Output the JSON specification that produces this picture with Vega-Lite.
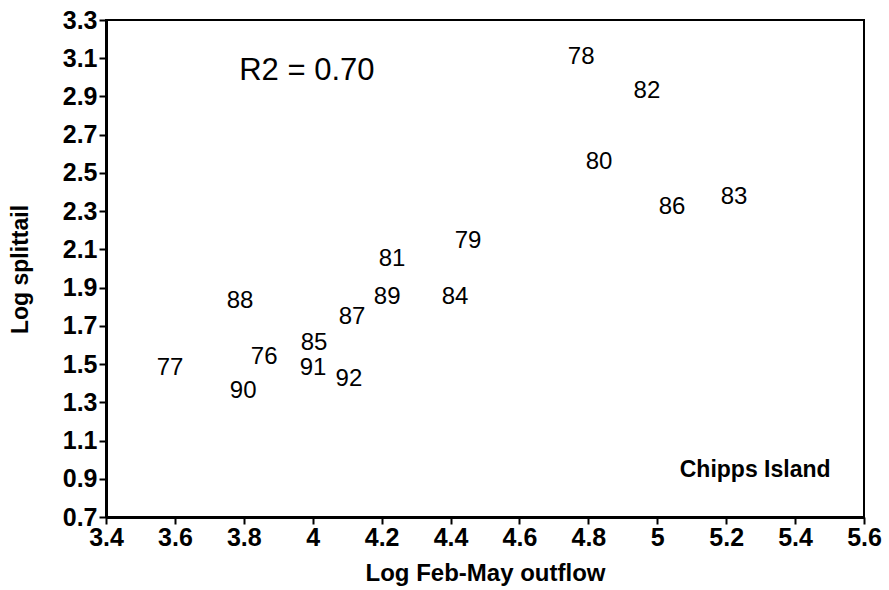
{
  "$schema": "https://vega.github.io/schema/vega-lite/v6.json",
  "width": 758,
  "height": 497,
  "autosize": "none",
  "padding": {"left": 106, "top": 20, "right": 25, "bottom": 73},
  "background": "white",
  "config": {
    "font": "Liberation Sans",
    "view": {"stroke": "black", "strokeWidth": 2},
    "axis": {
      "grid": false,
      "domainColor": "black",
      "domainWidth": 3,
      "tickColor": "black",
      "tickWidth": 2,
      "tickSize": 7,
      "labelColor": "black",
      "labelFont": "Liberation Sans",
      "labelFontWeight": "bold",
      "labelFontSize": 25,
      "titleColor": "black",
      "titleFont": "Liberation Sans",
      "titleFontWeight": "bold"
    }
  },
  "data": {
    "values": [
      {"x": 3.586, "y": 1.480, "label": "77"},
      {"x": 3.859, "y": 1.537, "label": "76"},
      {"x": 3.798, "y": 1.360, "label": "90"},
      {"x": 4.004, "y": 1.611, "label": "85"},
      {"x": 4.001, "y": 1.480, "label": "91"},
      {"x": 4.105, "y": 1.422, "label": "92"},
      {"x": 4.114, "y": 1.747, "label": "87"},
      {"x": 3.789, "y": 1.830, "label": "88"},
      {"x": 4.216, "y": 1.851, "label": "89"},
      {"x": 4.413, "y": 1.851, "label": "84"},
      {"x": 4.230, "y": 2.050, "label": "81"},
      {"x": 4.451, "y": 2.144, "label": "79"},
      {"x": 4.779, "y": 3.106, "label": "78"},
      {"x": 4.970, "y": 2.929, "label": "82"},
      {"x": 4.831, "y": 2.557, "label": "80"},
      {"x": 5.043, "y": 2.322, "label": "86"},
      {"x": 5.223, "y": 2.374, "label": "83"}
    ]
  },
  "encoding": {
    "x": {
      "field": "x",
      "type": "quantitative",
      "scale": {"domain": [3.4, 5.6], "nice": false, "zero": false},
      "axis": {
        "title": "Log Feb-May outflow",
        "values": [3.4, 3.6, 3.8, 4, 4.2, 4.4, 4.6, 4.8, 5, 5.2, 5.4, 5.6],
        "format": "~g",
        "labelPadding": 1,
        "labelFlush": false,
        "labelOverlap": false,
        "titleFontSize": 24,
        "titleBaseline": "alphabetic",
        "titleY": 63
      }
    },
    "y": {
      "field": "y",
      "type": "quantitative",
      "scale": {"domain": [0.7, 3.3], "nice": false, "zero": false},
      "axis": {
        "title": "Log splittail",
        "values": [0.7, 0.9, 1.1, 1.3, 1.5, 1.7, 1.9, 2.1, 2.3, 2.5, 2.7, 2.9, 3.1, 3.3],
        "format": ".1f",
        "labelPadding": 2,
        "labelFlush": false,
        "labelOverlap": false,
        "titleFontSize": 23,
        "titleAngle": -90,
        "titleBaseline": "alphabetic",
        "titleX": -79,
        "titleY": 249
      }
    }
  },
  "layer": [
    {
      "mark": {"type": "text", "fontSize": 24, "color": "black", "align": "center", "baseline": "middle", "font": "Liberation Sans"},
      "encoding": {"text": {"field": "label", "type": "nominal"}}
    },
    {
      "data": {"values": [
        {"x": 3.983, "y": 3.033, "label": "R2 = 0.70"}
      ]},
      "mark": {"type": "text", "fontSize": 31, "color": "black", "align": "center", "baseline": "middle", "font": "Liberation Sans"},
      "encoding": {"text": {"field": "label", "type": "nominal"}}
    },
    {
      "data": {"values": [
        {"x": 5.284, "y": 0.946, "label": "Chipps Island"}
      ]},
      "mark": {"type": "text", "fontSize": 23, "fontWeight": "bold", "color": "black", "align": "center", "baseline": "middle", "font": "Liberation Sans"},
      "encoding": {"text": {"field": "label", "type": "nominal"}}
    }
  ]
}
